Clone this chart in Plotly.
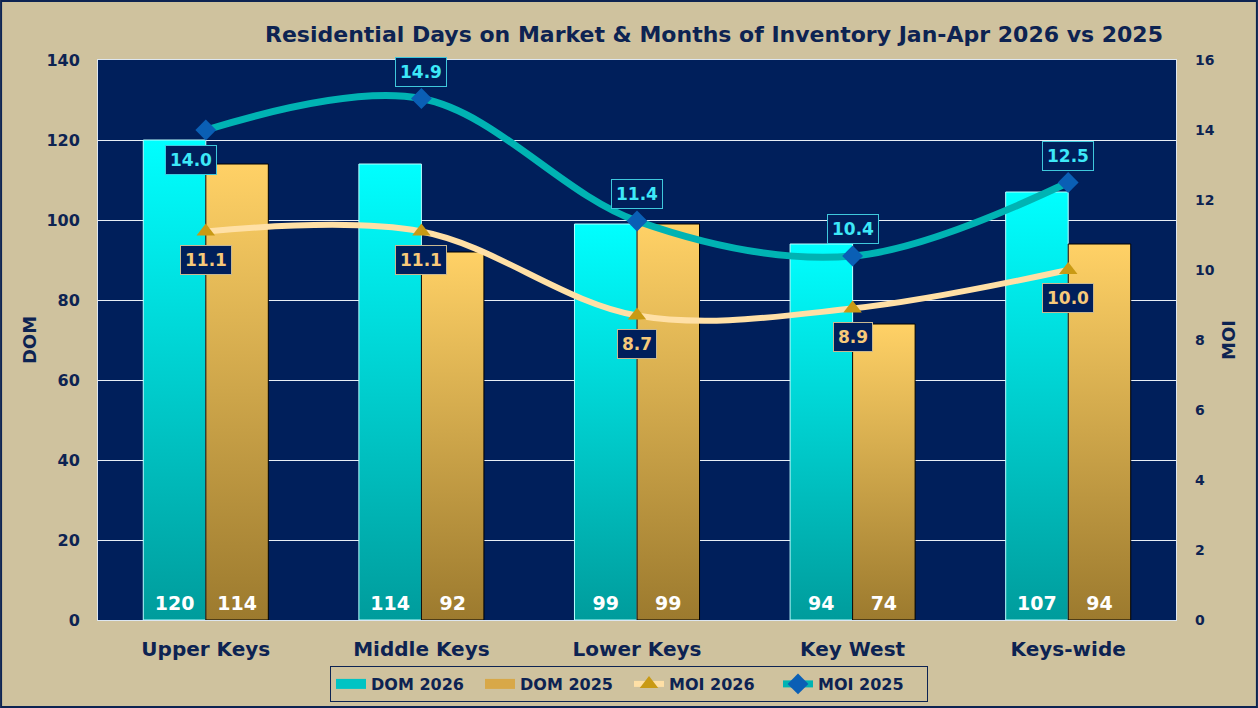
import plotly.graph_objects as go

# chart values
categories = ["Upper Keys", "Middle Keys", "Lower Keys", "Key West", "Keys-wide"]
dom_2026 = [120, 114, 99, 94, 107]
dom_2025 = [114, 92, 99, 74, 94]
moi_2026 = [11.1, 11.1, 8.7, 8.9, 10.0]
moi_2025 = [14.0, 14.9, 11.4, 10.4, 12.5]

NAVY = "#0D2352"
PLOT_BG = "#001F5B"
PAPER_BG = "#CFC29E"
FONT = "DejaVu Sans"
BAR_W = 0.29

fig = go.Figure()


def add_bars(values, side, name, top, bottom, edge, swatch):
    # legend-only entry drawn as a thick short line, close to the boxed key
    fig.add_trace(go.Scatter(
        x=[None], y=[None], name=name, mode="lines",
        line=dict(color=swatch, width=10),
    ))
    # each bar is a filled polygon so it can carry a vertical gradient
    for i, v in enumerate(values):
        x0 = i - BAR_W if side < 0 else i
        x1 = x0 + BAR_W
        fig.add_trace(go.Scatter(
            x=[x0, x1, x1, x0, x0], y=[0, 0, v, v, 0],
            mode="lines", fill="toself",
            line=dict(color=edge, width=1),
            fillgradient=dict(type="vertical", colorscale=[[0, bottom], [1, top]]),
            showlegend=False, hoverinfo="skip",
        ))
    fig.add_trace(go.Scatter(
        x=[i + side * BAR_W / 2 for i in range(len(values))], y=[1.3] * len(values),
        mode="text", text=[str(v) for v in values], textposition="top center",
        textfont=dict(family=FONT, size=19, color="white", weight="bold"),
        showlegend=False, hoverinfo="skip",
    ))


add_bars(dom_2026, -1, "DOM 2026", "#00FFFF", "#009C9C", "#B8FFFF", "#00C4C4")
add_bars(dom_2025, 1, "DOM 2025", "#FFD166", "#9C7A2E", "#000000", "#D8A848")

x_idx = list(range(len(categories)))

fig.add_trace(go.Scatter(
    x=x_idx, y=moi_2026, yaxis="y2", name="MOI 2026",
    mode="lines+markers", line=dict(color="#FFE0A6", width=6, shape="spline", smoothing=1.0),
    marker=dict(symbol="triangle-up", size=16, color="#C99A14"),
))
fig.add_trace(go.Scatter(
    x=x_idx, y=moi_2025, yaxis="y2", name="MOI 2025",
    mode="lines+markers", line=dict(color="#00B3B3", width=7, shape="spline", smoothing=1.0),
    marker=dict(symbol="diamond", size=16, color="#0A5FB5"),
))

# boxed data labels for the MOI lines
for i, v in enumerate(moi_2025):
    below = i == 0
    fig.add_annotation(
        x=i, y=v, yref="y2", text=f"<b>{v:.1f}</b>", showarrow=False,
        xshift=-15 if below else 0, yshift=-30 if below else 27,
        font=dict(family=FONT, size=17, color="#3DE8F8"),
        bgcolor=PLOT_BG, bordercolor="#3FC8DC", borderwidth=1, borderpad=4,
    )
for i, v in enumerate(moi_2026):
    fig.add_annotation(
        x=i, y=v, yref="y2", text=f"<b>{v:.1f}</b>", showarrow=False,
        yshift=-28,
        font=dict(family=FONT, size=17, color="#F7C97A"),
        bgcolor=PLOT_BG, bordercolor="#C8B890", borderwidth=1, borderpad=4,
    )

L, R, T, B = 98, 82, 60, 88
PW, PH = 1258 - L - R, 708 - T - B

fig.update_layout(
    width=1258, height=708,
    margin=dict(l=L, r=R, t=T, b=B, autoexpand=False),
    paper_bgcolor=PAPER_BG, plot_bgcolor=PLOT_BG,
    font=dict(family=FONT, color=NAVY),
    title=dict(
        text="<b>Residential Days on Market & Months of Inventory Jan-Apr 2026 vs 2025</b>",
        xref="container", x=714 / 1258, xanchor="center",
        yref="container", y=1 - 34 / 708, yanchor="middle",
        font=dict(family=FONT, size=22, color=NAVY),
    ),
    xaxis=dict(
        range=[-0.5, len(categories) - 0.5], tickvals=x_idx, ticktext=categories,
        tickfont=dict(family=FONT, size=20, color=NAVY, weight="bold"),
        showgrid=False, zeroline=False, ticklabelstandoff=11, automargin=False,
        showline=True, linecolor="#DDE6F0", linewidth=1, mirror=True,
    ),
    yaxis=dict(
        range=[0, 140], dtick=20, showgrid=True, gridcolor="#E8EEF6", gridwidth=1,
        zeroline=False, tickfont=dict(family=FONT, size=16, color=NAVY, weight="bold"),
        ticklabelstandoff=14, automargin=False,
        title=dict(text="<b>DOM</b>", font=dict(family=FONT, size=18, color=NAVY), standoff=5),
        showline=True, linecolor="#DDE6F0", linewidth=1, mirror=True,
    ),
    yaxis2=dict(
        range=[0, 16], dtick=2, overlaying="y", side="right", showgrid=False,
        zeroline=False, tickfont=dict(family=FONT, size=14, color=NAVY, weight="bold"),
        ticklabelstandoff=18, automargin=False,
        title=dict(text="<b>MOI</b>", font=dict(family=FONT, size=18, color=NAVY), standoff=8),
    ),
    legend=dict(
        orientation="h", x=(629 - L) / PW, xanchor="center", y=-46 / PH, yanchor="top",
        bgcolor=PAPER_BG, bordercolor=NAVY, borderwidth=1,
        font=dict(family=FONT, size=16, color=NAVY, weight="bold"),
        itemwidth=30, tracegroupgap=0, entrywidth=104,
    ),
    shapes=[dict(
        type="rect", xref="paper", yref="paper",
        x0=-L / PW + 0.001, x1=1 + R / PW - 0.001, y0=-B / PH + 0.002, y1=1 + T / PH - 0.002,
        line=dict(color=NAVY, width=2), fillcolor="rgba(0,0,0,0)", layer="below",
    )],
)

# the page is photographed from its top-left corner, so drop the default body margin
fig.write_html(
    "out.html",
    config={"displayModeBar": False},
    post_script="document.body.style.margin='0';",
)
